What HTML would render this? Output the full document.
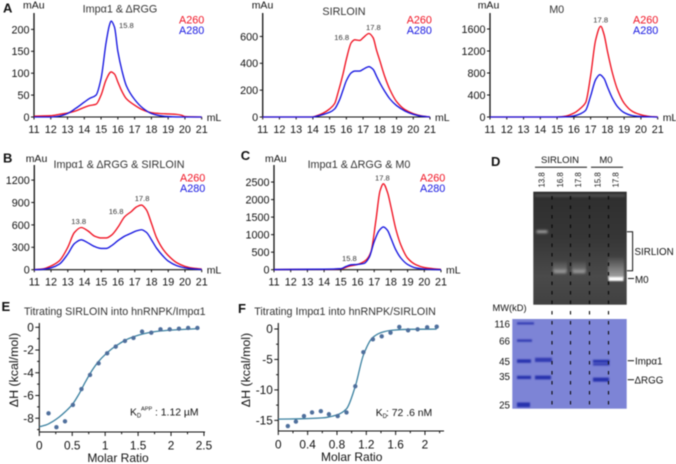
<!DOCTYPE html>
<html lang="en">
<head>
<meta charset="utf-8">
<title>Figure panels</title>
<style>
html,body{margin:0;padding:0;background:#fff;width:676px;height:464px;overflow:hidden}
#fig{display:block;filter:blur(.42px)}
text{font-family:"Liberation Sans",Arial,sans-serif;fill:#111}
</style>
</head>
<body>
<svg id="fig" xmlns="http://www.w3.org/2000/svg" width="676" height="464" viewBox="0 0 676 464">
<defs>
<linearGradient id="gelBg" x1="0" y1="0" x2="0" y2="1">
<stop offset="0" stop-color="#2e2e2e"/><stop offset=".4" stop-color="#363636"/><stop offset=".75" stop-color="#4a4a4a"/><stop offset="1" stop-color="#414141"/>
</linearGradient>
<linearGradient id="glow" x1="0" y1="0" x2="0" y2="1">
<stop offset="0" stop-color="#fff" stop-opacity="0"/><stop offset="1" stop-color="#fff" stop-opacity=".5"/>
</linearGradient>
<filter id="b1" x="-30%" y="-150%" width="160%" height="400%"><feGaussianBlur stdDeviation="1.2"/></filter>
<filter id="b2" x="-30%" y="-100%" width="160%" height="300%"><feGaussianBlur stdDeviation=".8"/></filter>
</defs>

<g>
<text x="491" y="166" font-size="13" font-weight="700">D</text>
<text x="560" y="163" font-size="9.5" text-anchor="middle">SIRLOIN</text>
<text x="606" y="163" font-size="9.5" text-anchor="middle">M0</text>
<line x1="535" x2="587" y1="167.3" y2="167.3" stroke="#111" stroke-width="1"/>
<line x1="591" x2="623" y1="167.3" y2="167.3" stroke="#111" stroke-width="1"/>
<text transform="translate(544.5,187.5) rotate(-90)" font-size="7.8">13.8</text>
<text transform="translate(563,187.5) rotate(-90)" font-size="7.8">16.8</text>
<text transform="translate(581,187.5) rotate(-90)" font-size="7.8">17.8</text>
<text transform="translate(600.5,187.5) rotate(-90)" font-size="7.8">15.8</text>
<text transform="translate(618.5,187.5) rotate(-90)" font-size="7.8">17.8</text>

<g>
<rect x="533.3" y="191.7" width="93.4" height="113" fill="url(#gelBg)"/>
<rect x="535" y="194" width="90" height="3" fill="#4a4a4a" filter="url(#b2)"/>
<rect x="536.5" y="230.5" width="11" height="2.4" fill="#b4b4b4" filter="url(#b1)"/>
<rect x="553" y="260" width="14" height="11" fill="url(#glow)" opacity=".5" filter="url(#b2)"/>
<rect x="553.5" y="270.3" width="13" height="2.8" fill="#a6a6a6" filter="url(#b1)"/>
<rect x="572" y="260" width="14" height="11" fill="url(#glow)" opacity=".5" filter="url(#b2)"/>
<rect x="572.5" y="270.3" width="13" height="2.8" fill="#a6a6a6" filter="url(#b1)"/>
<rect x="608" y="256" width="16" height="22" fill="url(#glow)" filter="url(#b2)"/>
<rect x="608.5" y="277" width="15" height="4" fill="#fff" filter="url(#b2)"/>
<g stroke="#0a0a0a" stroke-width="1.2" stroke-dasharray="3.5 6">
<line x1="552" x2="552" y1="196" y2="305"/>
<line x1="570.5" x2="570.5" y1="196" y2="305"/>
<line x1="589.5" x2="589.5" y1="196" y2="305"/>
<line x1="608.5" x2="608.5" y1="196" y2="305"/>
</g>
</g>
<path d="M627 231.7H632.6V270.7H627" fill="none" stroke="#111" stroke-width="1"/>
<line x1="628" x2="634" y1="278.5" y2="278.5" stroke="#111" stroke-width="1"/>
<text x="634.5" y="255" font-size="9.8">SIRLION</text>
<text x="635" y="283" font-size="9.8">M0</text>

<text x="492.5" y="311" font-size="9.3">MW(kD)</text>
<g>
<rect x="512.3" y="319" width="114.4" height="89.7" fill="#7d84d6"/>
<g fill="#2530ad" filter="url(#b2)">
<rect x="517" y="322.3" width="17" height="2.2" opacity=".85"/>
<rect x="517" y="339.4" width="15" height="2.4" opacity=".85"/>
<rect x="517" y="359.4" width="14" height="3.4"/>
<rect x="517" y="375.8" width="14" height="3.2"/>
<rect x="517" y="402.5" width="13" height="4.6"/>
<rect x="535" y="357.8" width="17" height="4.2" opacity=".85"/>
<rect x="535" y="375.6" width="16" height="3.8"/>
<rect x="593" y="359.8" width="16.5" height="2.8"/>
<rect x="593" y="363.2" width="16.5" height="2.4" opacity=".8"/>
<rect x="593" y="377.6" width="16" height="4"/>
</g>
<g stroke="#0a0a0a" stroke-width="1.1" stroke-dasharray="3.5 6.5">
<line x1="552" x2="552" y1="311" y2="406"/>
<line x1="570.5" x2="570.5" y1="311" y2="406"/>
<line x1="589.5" x2="589.5" y1="311" y2="406"/>
<line x1="608.5" x2="608.5" y1="311" y2="406"/>
</g>
</g>
<text x="510" y="327.6" font-size="9.8" text-anchor="end">116</text>
<text x="510" y="344.4" font-size="9.8" text-anchor="end">66</text>
<text x="510" y="364.8" font-size="9.8" text-anchor="end">45</text>
<text x="510" y="379.8" font-size="9.8" text-anchor="end">35</text>
<text x="510" y="408.5" font-size="9.8" text-anchor="end">25</text>
<line x1="627.7" x2="634" y1="360.7" y2="360.7" stroke="#111" stroke-width="1"/>
<line x1="627.7" x2="634" y1="379.7" y2="379.7" stroke="#111" stroke-width="1"/>
<text x="635" y="364.4" font-size="9.8">Impα1</text>
<text x="634.5" y="383.4" font-size="9.8">ΔRGG</text>
</g>
</svg>

<script>
// Panel A: Impa1 & dRGG
const volA260A = [11,12,12.5,13,13.5,14,14.3,14.7,15,15.3,15.6,15.8,16,16.25,16.5,17,17.5,18,18.5,19,19.5,19.8,20,21];
const sigA260A = [2,3,6,9,14,22,26,29,50,85,103,98,80,58,42,27,16,10,8,7,6,4,1,0];
const volA280A = [11,12,12.5,13,13.5,14,14.3,14.7,15,15.3,15.5,15.6,15.8,16,16.25,16.5,17,17.5,18,18.5,19,20,21];
const sigA280A = [0,0,2,8,20,34,42,50,88,170,210,219,205,150,105,72,40,20,8,3,1,0,0];
const yTicksA = [0,50,100,150,200];

// Panel A middle: SIRLOIN
const volA260S = [11,13.9,14.2,14.6,15,15.3,15.5,15.8,16,16.3,16.5,16.8,17,17.35,17.6,17.8,18,18.3,18.6,19,19.5,20,20.5,21];
const sigA260S = [0,0,8,28,60,100,180,320,430,555,575,570,590,622,590,500,420,300,205,115,55,25,8,0];
const volA280S = [11,14,14.3,14.7,15,15.3,15.6,15.8,16,16.3,16.5,16.8,17,17.35,17.6,17.8,18,18.3,18.6,19,19.5,20,20.5,21];
const sigA280S = [0,0,8,22,35,60,130,200,270,330,342,342,355,375,355,305,255,190,135,85,45,20,6,0];
const yTicksS = [0,200,400,600];

// Panel A right: M0
const volA260M = [11,15,15.5,16,16.4,16.7,17,17.3,17.6,17.8,18,18.3,18.6,19,19.5,20,20.5,21];
const sigA260M = [0,0,15,70,160,260,750,1400,1650,1500,1200,800,500,250,100,40,10,0];
const volA280M = [11,15,15.5,16,16.4,16.7,17,17.3,17.55,17.8,18,18.3,18.6,19,19.5,20,21];
const sigA280M = [0,0,3,20,60,120,380,680,770,700,550,340,190,80,25,8,0];
const yTicksM = [0,400,800,1200,1600];

// Panel B: Impa1 & dRGG & SIRLOIN
const volB = [11,11.5,12,12.5,13,13.4,13.8,14.2,14.6,15,15.3,15.6,16,16.4,16.8,17.1,17.4,17.7,18,18.3,18.7,19,19.5,20,20.5,21];
const sigA260B = [0,10,50,120,300,500,565,520,450,425,425,460,570,710,780,840,865,800,620,430,270,190,95,45,20,8];
const sigA280B = [0,5,25,75,210,350,400,360,310,285,285,320,390,450,490,520,535,500,400,290,180,115,55,25,10,3];
const yTicksB = [0,300,600,900,1200];

// Panel C: Impa1 & dRGG & M0
const volA260C = [11,14,15,15.5,16,16.5,16.8,17.1,17.35,17.55,17.8,18,18.3,18.6,19,19.5,20,20.5,21];
const sigA260C = [5,10,25,100,150,270,500,1400,2250,2450,2200,1800,1150,700,330,140,60,30,10];
const volA280C = [11,14,15,15.3,15.6,16,16.4,16.7,17,17.3,17.55,17.8,18,18.3,18.6,19,19.5,20,20.5,21];
const sigA280C = [5,15,30,90,140,150,180,350,800,1120,1220,1120,900,560,330,150,50,20,8,0];
const yTicksC = [0,500,1000,1500,2000,2500];

const xTicksML = [11,12,13,14,15,16,17,18,19,20,21];

// Panel E: SIRLOIN into hnRNPK/Impa1
const ratioE = [0.14,0.26,0.39,0.51,0.64,0.77,0.90,1.03,1.16,1.30,1.43,1.56,1.70,1.84,1.98,2.12,2.26,2.40];
const heatE = [-7.57,-8.79,-8.27,-6.83,-5.43,-4.19,-3.17,-2.29,-1.70,-1.20,-0.94,-0.38,-0.47,-0.18,-0.18,-0.12,-0.06,-0.06];
const fitRatioE = [0,0.1,0.2,0.3,0.4,0.5,0.6,0.7,0.8,0.9,1,1.1,1.2,1.3,1.4,1.6,1.8,2,2.2,2.43];
const fitHeatE = [-8.75,-8.6,-8.3,-7.9,-7.4,-6.8,-5.9,-4.8,-3.8,-3,-2.4,-1.9,-1.5,-1.15,-0.9,-0.55,-0.35,-0.25,-0.18,-0.12];
const xMajorE = [0,0.5,1,1.5,2,2.5];
const xLabelE = ['0','0.5','1','1.5','2','2.5'];
const yMajorE = [0,-2,-4,-6,-8];

// Panel F: Impa1 into hnRNPK/SIRLOIN
const ratioF = [0.13,0.24,0.35,0.46,0.58,0.69,0.81,0.93,1.05,1.16,1.29,1.41,1.53,1.65,1.77,1.90,2.03,2.16];
const heatF = [-15.93,-15.2,-14.3,-13.7,-13.5,-14.0,-14.3,-13.7,-9.4,-3.8,-1.7,-1.2,-0.6,0.33,-0.22,-0.05,0.27,0.38];
const fitRatioF = [0,0.3,0.6,0.8,0.93,1.05,1.16,1.28,1.4,1.55,1.8,2.16];
const fitHeatF = [-14.8,-14.75,-14.6,-14.1,-13.1,-9.4,-4.3,-1.5,-0.6,-0.2,-0.05,-0.02];
const xMajorF = [0,0.4,0.8,1.2,1.6,2];
const xLabelF = ['0','0.4','0.8','1.2','1.6','2'];
const yMajorF = [0,-5,-10,-15];

const svg = document.getElementById('fig');
const NS = 'http://www.w3.org/2000/svg';

function mk(tag, attrs, parent) {
  const e = document.createElementNS(NS, tag);
  for (const k in attrs) e.setAttribute(k, attrs[k]);
  (parent || svg).appendChild(e);
  return e;
}
function label(parent, name, x, y, str, size, opts) {
  const t = mk('text', Object.assign({x: x, y: y, 'font-size': size}, opts || {}), parent);
  
  
  t.textContent = str;
  return t;
}
function rule(parent, name, x1, y1, x2, y2, w) {
  const l = mk('line', {x1: x1, y1: y1, x2: x2, y2: y2, stroke: '#111', 'stroke-width': w}, parent);
  
  
  return l;
}
// Monotone cubic path through the points
function curvePath(xs, ys) {
  const n = xs.length, d = [], m = [];
  for (let i = 0; i < n - 1; i++) d[i] = (ys[i + 1] - ys[i]) / (xs[i + 1] - xs[i]);
  m[0] = d[0]; m[n - 1] = d[n - 2];
  for (let i = 1; i < n - 1; i++) {
    if (d[i - 1] * d[i] <= 0) { m[i] = 0; continue; }
    const h0 = xs[i] - xs[i - 1], h1 = xs[i + 1] - xs[i];
    m[i] = 3 * (h0 + h1) / ((2 * h1 + h0) / d[i - 1] + (h1 + 2 * h0) / d[i]);
  }
  let p = 'M' + xs[0].toFixed(2) + ' ' + ys[0].toFixed(2);
  for (let i = 0; i < n - 1; i++) {
    const h = (xs[i + 1] - xs[i]) / 3;
    p += 'C' + (xs[i] + h).toFixed(2) + ' ' + (ys[i] + m[i] * h).toFixed(2) + ' ' +
      (xs[i + 1] - h).toFixed(2) + ' ' + (ys[i + 1] - m[i + 1] * h).toFixed(2) + ' ' +
      xs[i + 1].toFixed(2) + ' ' + ys[i + 1].toFixed(2);
  }
  return p;
}

function chromatogram(c) {
  const g = mk('g', {});
  
  
  const sx = v => c.x0 + (v - 11) * (c.x1 - c.x0) / 10;
  const sy = v => c.base - v * c.ppu;

  c.yTicks.forEach(t => {
    rule(g, 'y-tick', c.x0 - 3, sy(t), c.x0, sy(t), 1);
    label(g, 'y-tick-label', c.x0 - 4.5, sy(t) + 3.9, String(t), 10.8, {'text-anchor': 'end'});
  });
  xTicksML.forEach(t => {
    rule(g, 'x-tick', sx(t), c.base, sx(t), c.base + 2.5, 1);
    label(g, 'x-tick-label', sx(t), c.base + 16, String(t), 10.8, {'text-anchor': 'middle'});
  });
  rule(g, 'y-axis', c.x0, c.top, c.x0, c.base + 0.5, 1.3);
  rule(g, 'x-axis', c.x0, c.base, c.x1, c.base, 1.1);

  const red = mk('path', {d: curvePath(c.vRed.map(sx), c.sRed.map(sy)), fill: 'none', stroke: '#f01020', 'stroke-width': 1.35}, g);
  
  
  const blue = mk('path', {d: curvePath(c.vBlue.map(sx), c.sBlue.map(sy)), fill: 'none', stroke: '#1414e0', 'stroke-width': 1.35}, g);
  
  

  if (c.letter) {
    label(g, 'panel-letter', c.letter[1], c.letter[2], c.letter[0], 13, {'font-weight': 700});
  }
  label(g, 'y-axis-unit', c.mAu[0], c.mAu[1], 'mAu', 10.5);
  label(g, 'x-axis-unit', c.x1 + 5, c.base + 4, 'mL', 10.5);
  label(g, 'chart-title', c.title[1], c.title[2], c.title[0], 10.8, {'text-anchor': 'middle'}).style.fill = '#333';
  label(g, 'legend-a260', c.leg[0], c.leg[1], 'A260', 10.8).style.fill = '#f01020';
  label(g, 'legend-a280', c.leg[0], c.leg[1] + 10.2, 'A280', 10.8).style.fill = '#1414e0';
  c.peaks.forEach(p => {
    label(g, 'peak-label', p[1], p[2], p[0], 7.6).style.fill = '#333';
  });
}

chromatogram({id: 'panel-a-left', x0: 34, x1: 201.7, base: 117, top: 13, ppu: 21.9 / 50, yTicks: yTicksA,
  vRed: volA260A, sRed: sigA260A, vBlue: volA280A, sBlue: sigA280A, letter: ['A', 3, 12.7], mAu: [23, 8.5],
  title: ['Impα1 & ΔRGG', 120, 12.7], leg: [179, 23.7], peaks: [['15.8', 119, 28]]});
chromatogram({id: 'panel-a-middle', x0: 262.7, x1: 430, base: 117, top: 13, ppu: 26.85 / 200, yTicks: yTicksS,
  vRed: volA260S, sRed: sigA260S, vBlue: volA280S, sBlue: sigA280S, mAu: [251.7, 8.5],
  title: ['SIRLOIN', 344, 15], leg: [406.7, 23.7], peaks: [['16.8', 334.3, 40], ['17.8', 366, 30]]});
chromatogram({id: 'panel-a-right', x0: 490, x1: 657.7, base: 117, top: 13, ppu: 22 / 400, yTicks: yTicksM,
  vRed: volA260M, sRed: sigA260M, vBlue: volA280M, sBlue: sigA280M, mAu: [477.7, 8.5],
  title: ['M0', 556.7, 13], leg: [633, 23.7], peaks: [['17.8', 593.3, 22.3]]});
chromatogram({id: 'panel-b', x0: 34.3, x1: 201.7, base: 269.7, top: 165, ppu: 22.4 / 300, yTicks: yTicksB,
  vRed: volB, sRed: sigA260B, vBlue: volB, sBlue: sigA280B, letter: ['B', 3, 162.7], mAu: [25.7, 162],
  title: ['Impα1 & ΔRGG & SIRLOIN', 119, 168], leg: [180, 181.7],
  peaks: [['13.8', 71.3, 224], ['16.8', 108.7, 214], ['17.8', 134.7, 201]]});
chromatogram({id: 'panel-c', x0: 274, x1: 441, base: 269.7, top: 165, ppu: 17.53 / 500, yTicks: yTicksC,
  vRed: volA260C, sRed: sigA260C, vBlue: volA280C, sBlue: sigA280C, letter: ['C', 240.7, 160], mAu: [265, 162],
  title: ['Impα1 & ΔRGG & M0', 359, 168], leg: [420, 181.7],
  peaks: [['17.8', 375, 180.7], ['15.8', 342, 261]]});

function itc(c) {
  const g = mk('g', {});
  
  
  const sx = v => c.x0 + v * c.ppx;
  const sy = v => c.y0 - v * c.ppy;

  rule(g, 'y-axis', c.x0, c.top, c.x0, c.bottom, 1.1);
  rule(g, 'x-axis', c.x0, c.bottom, c.right, c.bottom, 1.1);
  c.xMajor.forEach((t, i) => {
    rule(g, 'x-major-tick', sx(t), c.bottom, sx(t), c.bottom + 4, 1);
    label(g, 'x-tick-label', sx(t), c.bottom + 17.5, c.xLabels[i], 11.8, {'text-anchor': 'middle'});
  });
  for (let i = 0; i < c.xMajor.length; i++) {
    const m = c.xMajor[i] + c.xMinorStep;
    if (sx(m) <= c.right) rule(g, 'x-minor-tick', sx(m), c.bottom, sx(m), c.bottom + 2.2, 1);
  }
  c.yMajor.forEach(t => {
    rule(g, 'y-major-tick', c.x0 - 4, sy(t), c.x0, sy(t), 1);
    label(g, 'y-tick-label', c.x0 - 5.5, sy(t) + 4.2, String(t), 11.8, {'text-anchor': 'end'});
    if (sy(t - c.yMinorStep) <= c.bottom) rule(g, 'y-minor-tick', c.x0 - 2.2, sy(t - c.yMinorStep), c.x0, sy(t - c.yMinorStep), 1);
  });

  const fit = mk('path', {d: curvePath(c.fx.map(sx), c.fy.map(sy)), fill: 'none', stroke: '#3a80a0', 'stroke-width': 1.3}, g);
  
  
  c.px.forEach((v, i) => {
    const d = mk('circle', {cx: sx(v), cy: sy(c.py[i]), r: 2.2, fill: '#4f6f9c'}, g);
    
    
  });

  label(g, 'panel-letter', c.letter[1], c.letter[2], c.letter[0], 13, {'font-weight': 700});
  label(g, 'chart-title', c.title[1], 315, c.title[0], 10.7).style.fill = '#333';
  label(g, 'x-axis-title', c.xt[0], c.xt[1], 'Molar Ratio', 12, {'text-anchor': 'middle'});
  const yt = label(g, 'y-axis-title', 0, 0, 'ΔH (kcal/mol)', 12.4, {'text-anchor': 'middle', transform: 'translate(' + c.yt + ',370) rotate(-90)'});
  yt.removeAttribute('x');
  label(g, 'kd-annotation', c.kd[0], c.kd[1], c.kd[2], 10.4);
  label(g, 'kd-subscript', c.kd[0] + 6.9, c.kd[1] + 2, 'D', 6);
  if (c.kd[3]) label(g, 'kd-superscript', c.kd[0] + 11, c.kd[1] - 5, c.kd[3], 5.6);
  label(g, 'kd-value', c.kd[4], c.kd[1], c.kd[5], 10.4);
}

itc({id: 'panel-e', x0: 39.3, y0: 327.3, ppx: 197.6 / 3, ppy: 34.1 / 3, top: 323, bottom: 432, right: 205,
  xMajor: xMajorE, xLabels: xLabelE, xMinorStep: 0.25, yMajor: yMajorE, yMinorStep: 1,
  px: ratioE, py: heatE, fx: fitRatioE, fy: fitHeatE, letter: ['E', 1.5, 311],
  title: ['Titrating SIRLOIN into hnRNPK/Impα1', 24], xt: [118, 462], yt: 18,
  kd: [130, 415.7, 'K', 'APP', 155, ': 1.12 µM']});
itc({id: 'panel-f', x0: 278.3, y0: 329, ppx: 220 / 3, ppy: 18.27 / 3, top: 323, bottom: 431, right: 444,
  xMajor: xMajorF, xLabels: xLabelF, xMinorStep: 0.2, yMajor: yMajorF, yMinorStep: 2.5,
  px: ratioF, py: heatF, fx: fitRatioF, fy: fitHeatF, letter: ['F', 238, 313],
  title: ['Titrating Impα1 into hnRNPK/SIRLOIN', 254.3], xt: [351.7, 461], yt: 250,
  kd: [375.7, 416, 'K', '', 386, ': 72 .6 nM']});
</script>
</body>
</html>
